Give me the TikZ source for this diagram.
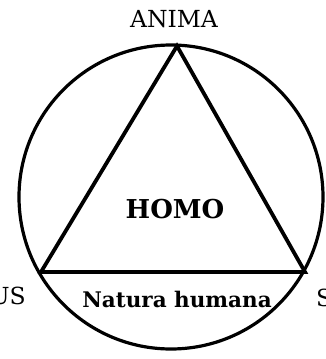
\documentclass[tikz,border=0pt]{standalone}
\usepackage{fontspec}
\setmainfont{DejaVu Serif}
\begin{document}
\begin{tikzpicture}[x=1pt,y=-1pt,
  lbl/.style={inner sep=0pt, font=\fontsize{23.5}{26}\selectfont},
  blbl/.style={inner sep=0pt, font=\fontsize{21.5}{26}\selectfont\bfseries}]
\useasboundingbox (0,0) rectangle (325,359);
\clip (0,0) rectangle (325,359);
\coordinate (O) at (171,197);
\draw[line width=3.2pt] (O) circle[radius=152];
\coordinate (A) at (177,46);
\coordinate (B) at (41,272);
\coordinate (C) at (305,272);
\draw[line width=3.8pt, line join=miter] (A) -- (B) -- (C) -- cycle;
\node[lbl, anchor=base] (anima) at (174,27) {ANIMA};
\node[blbl, font=\fontsize{26}{30}\selectfont\bfseries, anchor=base] (homo) at (175,218) {HOMO};
\node[blbl, anchor=base] (natura) at (177,307) {Natura humana};
\node[lbl, anchor=base east] (corpus) at (26,304) {US};
\node[lbl, anchor=base west] (spiritus) at (316,306) {S};
\end{tikzpicture}
\end{document}
